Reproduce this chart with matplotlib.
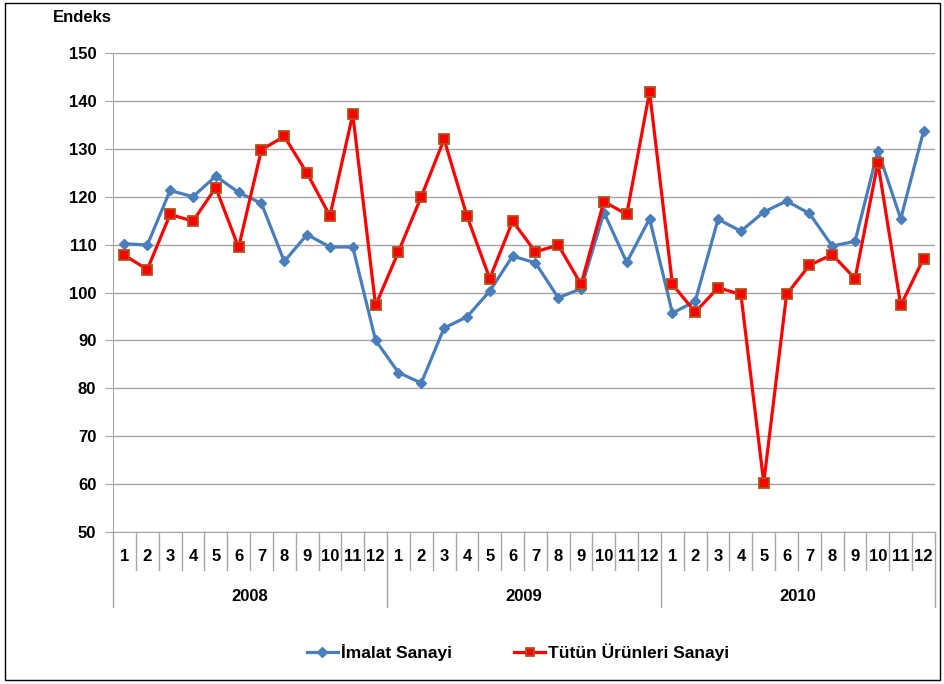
import numpy as np
import matplotlib
matplotlib.use('Agg')
from matplotlib import pyplot as plt
from matplotlib.patches import Rectangle

####DATA####
years = ['2008', '2009', '2010']
months = [str(m) for m in range(1, 13)]
imalat = [110.2, 109.9, 121.3, 120.0, 124.3, 120.9, 118.6, 106.5, 112.1, 109.5, 109.5, 90.0,
          83.3, 81.1, 92.6, 94.9, 100.3, 107.6, 106.2, 98.9, 100.8, 116.7, 106.3, 115.4,
          95.7, 98.2, 115.3, 112.8, 116.8, 119.1, 116.5, 109.7, 110.7, 129.6, 115.4, 133.7]
tutun = [107.8, 104.8, 116.3, 114.9, 121.9, 109.4, 129.8, 132.6, 124.9, 116.0, 137.2, 97.3,
         108.5, 120.0, 132.0, 116.0, 102.9, 114.9, 108.5, 109.9, 101.7, 119.0, 116.3, 141.9,
         101.7, 95.9, 101.0, 99.6, 60.3, 99.6, 105.7, 107.9, 102.9, 127.1, 97.3, 107.1]
yticks = [50, 60, 70, 80, 90, 100, 110, 120, 130, 140, 150]
#############

plt.rcParams['font.family'] = ['Liberation Sans', 'DejaVu Sans']
plt.rcParams['font.weight'] = 'bold'
fs = 12

fig = plt.figure(figsize=(9.45, 6.84), dpi=100)
ax = fig.add_axes([0.1196, 0.2222, 0.8698, 0.7003])

x = np.arange(len(imalat))
ax.plot(x, imalat, color='#4a7ebb', lw=2.3, marker='D', ms=5.5,
        mfc='#4a7ebb', mec='#4a7ebb', label='İmalat Sanayi', zorder=3)
ax.plot(x, tutun, color='#ff0000', lw=2.3, marker='s', ms=7,
        mfc='#ff0000', mec='#b0521c', mew=1.3, label='Tütün Ürünleri Sanayi', zorder=4)

ax.set_ylim(50, 150)
ax.set_xlim(-0.5, len(x) - 0.5)
ax.set_yticks(yticks)
ax.set_yticklabels([str(t) for t in yticks], fontsize=fs, fontweight='bold')
ax.yaxis.grid(True, color='#a6a6a6', lw=1)
ax.set_axisbelow(True)
ax.tick_params(axis='y', length=6, color='#a6a6a6', pad=6)
for s in ['top', 'right']:
    ax.spines[s].set_visible(False)
ax.spines['left'].set_color('#a6a6a6')
ax.spines['bottom'].set_color('#a6a6a6')

# two-level category axis: months then years
ax.set_xticks([])
tr = ax.get_xaxis_transform()
for i in x:
    ax.text(i, -0.052, months[i % 12], transform=tr, ha='center', va='center',
            fontsize=fs, fontweight='bold')
for k in range(len(x) - 1):
    if (k + 1) % 12 != 0:
        ax.plot([k + 0.5, k + 0.5], [0, -0.079], transform=tr, color='#a6a6a6',
                lw=1, clip_on=False)
for j, yr in enumerate(years):
    ax.plot([j * 12 - 0.5] * 2, [0, -0.157], transform=tr, color='#a6a6a6',
            lw=1, clip_on=False)
    ax.text(j * 12 + 5.5, -0.134, yr, transform=tr, ha='center', va='center',
            fontsize=fs, fontweight='bold')
ax.plot([len(x) - 0.5] * 2, [0, -0.157], transform=tr, color='#a6a6a6',
        lw=1, clip_on=False)

fig.text(0.087, 0.974, 'Endeks', ha='center', va='center', fontsize=fs, fontweight='bold')

fig.legend(loc='center', bbox_to_anchor=(0.548, 0.047), ncol=2, frameon=False,
           columnspacing=3.6, handlelength=1.8, handletextpad=0.15, markerscale=0.9,
           prop={'weight': 'bold', 'size': 12.5})

fig.patches.append(Rectangle((0.005, 0.006), 0.99, 0.99, transform=fig.transFigure,
                             fill=False, edgecolor='black', lw=1))

fig.savefig('out.png', dpi=100)
